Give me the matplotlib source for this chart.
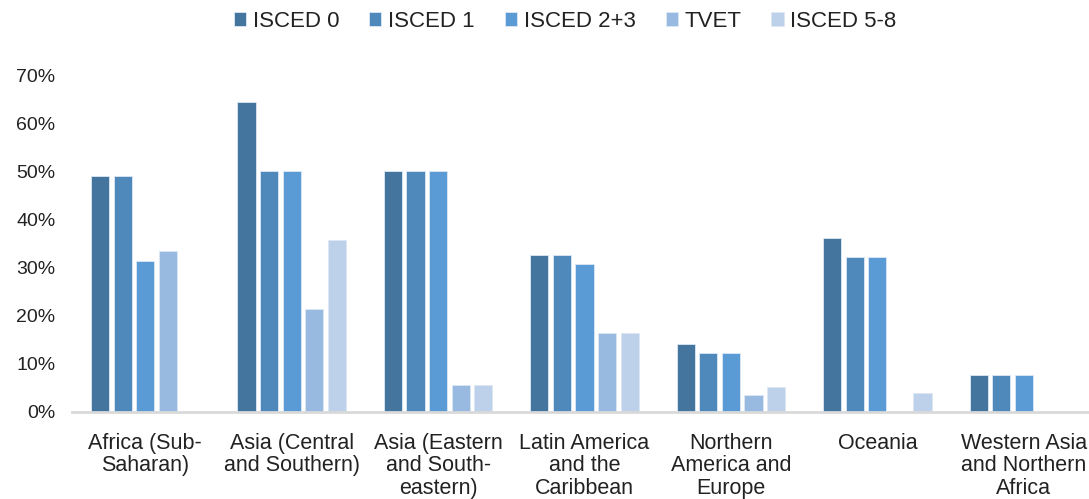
import numpy as np
import matplotlib.pyplot as plt

regions = ["Africa (Sub-\nSaharan)", "Asia (Central\nand Southern)",
           "Asia (Eastern\nand South-\neastern)", "Latin America\nand the\nCaribbean",
           "Northern\nAmerica and\nEurope", "Oceania", "Western Asia\nand Northern\nAfrica"]
series = ["ISCED 0", "ISCED 1", "ISCED 2+3", "TVET", "ISCED 5-8"]
isced0 = [49.1, 64.4, 50.0, 32.6, 14.1, 36.2, 7.7]
isced1 = [49.1, 50.0, 50.0, 32.6, 12.3, 32.2, 7.7]
isced23 = [31.4, 50.0, 50.0, 30.8, 12.3, 32.2, 7.7]
tvet = [33.5, 21.4, 5.6, 16.4, 3.5, 0.0, 0.0]
isced58 = [0.0, 35.8, 5.6, 16.4, 5.2, 4.0, 0.0]
colors = ["#44759F", "#4F89BC", "#5B9BD5", "#98B9E0", "#BDD1EA"]

plt.rcParams['font.family'] = ['Liberation Sans', 'DejaVu Sans']

fig = plt.figure(figsize=(10.89, 4.99), dpi=100)
ax = fig.add_axes([72 / 1089, 1 - 412 / 499, 1025 / 1089, (412 - 75) / 499])

x = np.arange(len(regions))
step = 0.154
for i, (name, vals) in enumerate(zip(series, [isced0, isced1, isced23, tvet, isced58])):
    ax.bar(x + (i - 2) * step, np.array(vals) / 100, width=0.124, color=colors[i],
           edgecolor="#DDE8F5", linewidth=0.6, label=name)

ax.set_xlim(-0.5, len(regions) - 0.5)
ax.set_ylim(0, 0.7)
ax.set_yticks(np.arange(0, 0.71, 0.1))
ax.set_yticklabels([f"{int(round(v * 100))}%" for v in np.arange(0, 0.71, 0.1)], fontsize=14)
ax.set_xticks(x)
ax.set_xticklabels(regions, fontsize=15.5, linespacing=1.1, va="top")
ax.tick_params(axis="both", length=0, colors="#222222")
ax.tick_params(axis="x", pad=15)
ax.tick_params(axis="y", pad=12)
for s in ["top", "right", "left"]:
    ax.spines[s].set_visible(False)
ax.spines["bottom"].set_color("#D9D9D9")
ax.spines["bottom"].set_linewidth(2)

fig.legend(loc="upper center", bbox_to_anchor=(0.519, 1.018), ncol=5, frameon=False,
           fontsize=16, handlelength=0.55, handleheight=0.55, handletextpad=0.3,
           columnspacing=1.35, labelcolor="#222222")

fig.savefig("out.png", dpi=100)
